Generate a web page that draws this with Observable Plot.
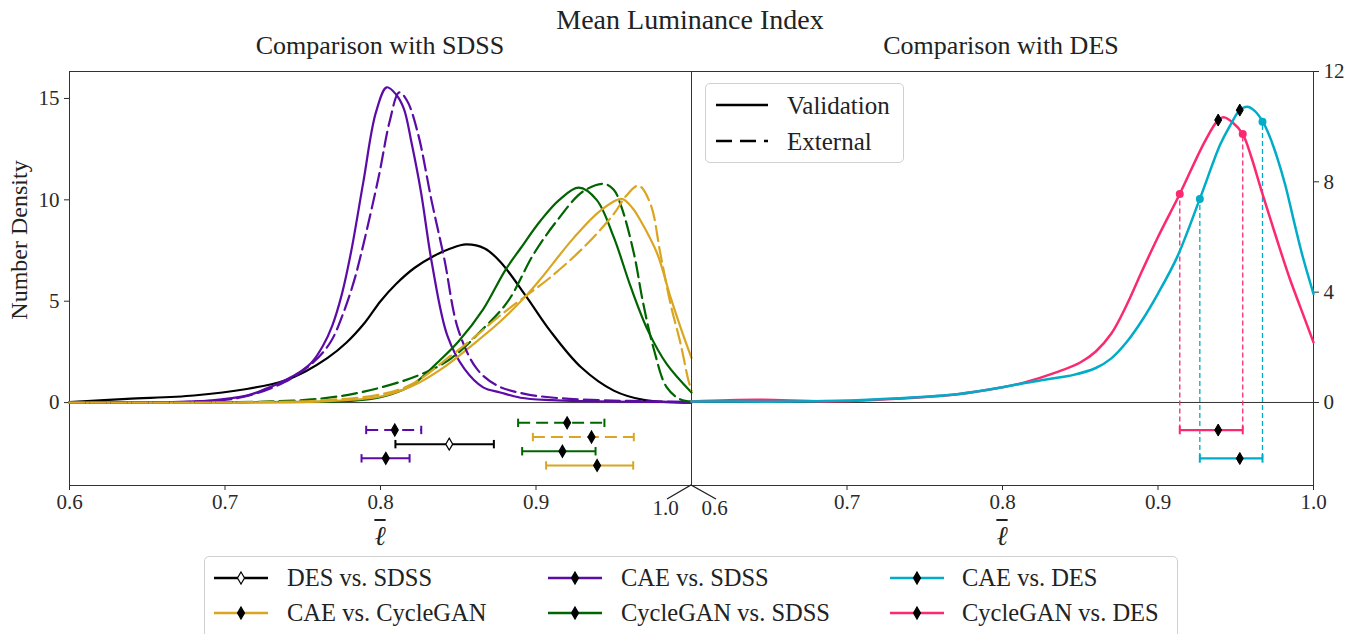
<!DOCTYPE html>
<html><head><meta charset="utf-8">
<script src="https://cdn.jsdelivr.net/npm/d3@7"></script>
<script src="https://cdn.jsdelivr.net/npm/@observablehq/plot@0.6"></script>
<style>
body{margin:0;background:#fff;}
#wrap{position:relative;width:1368px;height:634px;overflow:hidden;background:#fff;font-family:"Liberation Serif","DejaVu Serif",serif;color:#222;}
.t{position:absolute;white-space:nowrap;transform:translate(-50%,-50%);line-height:1;}
.plotbox{position:absolute;}
.plotbox svg{overflow:visible;background:transparent;}
.leg{position:absolute;border:1px solid #d0d0d0;border-radius:5px;background:rgba(255,255,255,0.85);}
.legtxt{position:absolute;white-space:nowrap;transform:translateY(-50%);line-height:1;}
.ell{text-decoration:overline;text-decoration-thickness:1.5px;font-style:italic;}
</style></head><body><div id="wrap"></div>
<script>
// ---------- data ----------
const xTicksLeft = [0.6, 0.7, 0.8, 0.9];
const xTicksRight = [0.7, 0.8, 0.9, 1.0];
const leftYTicks = [0, 5, 10, 15];
const rightYTicks = [0, 4, 8, 12];

// KDE curves, comparison with SDSS
const desVsSdssVal = [[0.60,0.02],[0.637,0.18],[0.68,0.35],[0.714,0.67],[0.738,1.08],[0.752,1.55],[0.766,2.2],[0.778,2.95],[0.79,3.95],[0.80,5.0],[0.81,5.85],[0.822,6.65],[0.834,7.22],[0.845,7.6],[0.855,7.8],[0.867,7.6],[0.877,6.95],[0.894,5.2],[0.909,3.55],[0.929,1.74],[0.95,0.59],[0.97,0.12],[1.0,0.0]];
const caeVsSdssVal = [[0.60,0.0],[0.66,0.02],[0.69,0.1],[0.714,0.34],[0.727,0.7],[0.738,1.08],[0.748,1.5],[0.756,2.0],[0.763,2.8],[0.769,3.8],[0.775,5.3],[0.781,7.4],[0.789,10.9],[0.797,14.3],[0.804,15.55],[0.810,15.2],[0.815,14.5],[0.820,12.8],[0.826,10.4],[0.833,6.9],[0.843,3.3],[0.854,1.66],[0.866,0.75],[0.877,0.5],[0.890,0.24],[0.91,0.12],[0.93,0.07],[0.96,0.04],[1.0,0.02]];
const caeVsSdssExt = [[0.60,0.0],[0.68,0.05],[0.71,0.25],[0.738,1.0],[0.757,2.0],[0.768,3.0],[0.776,4.4],[0.783,6.0],[0.789,7.8],[0.799,11.2],[0.806,13.9],[0.812,15.3],[0.817,14.9],[0.824,13.3],[0.833,9.9],[0.841,7.1],[0.850,3.6],[0.862,1.66],[0.875,0.84],[0.892,0.44],[0.91,0.25],[0.93,0.15],[0.96,0.08],[1.0,0.03]];
const cycVsSdssVal = [[0.60,0],[0.70,0.01],[0.76,0.04],[0.78,0.08],[0.80,0.26],[0.82,0.85],[0.837,2.0],[0.85,3.0],[0.866,4.6],[0.88,6.5],[0.89,7.6],[0.903,8.98],[0.915,10.0],[0.9275,10.6],[0.939,10.0],[0.95,8.16],[0.961,5.69],[0.972,3.55],[0.984,1.91],[1.0,0.5]];
const cycVsSdssExt = [[0.60,0],[0.70,0.02],[0.73,0.06],[0.76,0.18],[0.79,0.55],[0.824,1.33],[0.845,2.16],[0.866,3.64],[0.882,5.0],[0.8986,7.34],[0.9136,8.98],[0.93,10.4],[0.9436,10.79],[0.950,10.5],[0.955,9.64],[0.963,7.34],[0.969,4.87],[0.976,2.57],[0.984,0.76],[0.993,0.15],[1.0,0.05]];
const caeVsCycVal = [[0.60,0],[0.72,0.01],[0.76,0.05],[0.80,0.3],[0.82,0.8],[0.84,1.7],[0.86,2.9],[0.877,4.0],[0.894,5.3],[0.903,6.1],[0.924,8.1],[0.9415,9.47],[0.955,10.05],[0.962,9.6],[0.9672,8.98],[0.978,7.34],[0.9865,5.2],[0.993,3.7],[1.0,2.2]];
const caeVsCycExt = [[0.60,0],[0.72,0.02],[0.76,0.1],[0.80,0.4],[0.82,0.9],[0.845,2.3],[0.86,3.2],[0.877,4.3],[0.895,5.35],[0.9093,6.18],[0.9307,7.66],[0.95,9.3],[0.958,10.2],[0.966,10.7],[0.9736,9.8],[0.98,7.34],[0.9865,4.87],[0.993,2.9],[0.998,1.1],[1.0,0.6]];

// KDE curves, comparison with DES
const cycVsDesVal = [[0.60,0.04],[0.642,0.1],[0.685,0.04],[0.72,0.1],[0.771,0.3],[0.80,0.55],[0.8136,0.72],[0.835,1.1],[0.85,1.45],[0.86,1.85],[0.87,2.5],[0.88,3.55],[0.89,4.8],[0.90,6.0],[0.914,7.56],[0.93,9.45],[0.9387,10.24],[0.9423,10.34],[0.948,10.15],[0.9545,9.73],[0.960,8.9],[0.9659,7.8],[0.972,6.7],[0.9788,5.5],[0.985,4.45],[0.9916,3.45],[1.0,2.18]];
const caeVsDesVal = [[0.60,0.04],[0.65,0.03],[0.685,0.05],[0.72,0.12],[0.771,0.3],[0.80,0.55],[0.8136,0.7],[0.83,0.85],[0.8457,1.0],[0.86,1.25],[0.87,1.6],[0.88,2.2],[0.89,3.0],[0.90,3.95],[0.9123,5.27],[0.9269,7.38],[0.94,9.35],[0.946,10.0],[0.9526,10.6],[0.9574,10.72],[0.962,10.58],[0.9674,10.18],[0.972,9.62],[0.9766,8.89],[0.982,7.85],[0.9873,6.6],[0.993,5.3],[1.0,3.94]];

// intervals (low, median, high), comparison with SDSS, top to bottom
const leftIntervalNames = ["CycleGAN vs. SDSS","CAE vs. SDSS","CAE vs. CycleGAN","DES vs. SDSS","CycleGAN vs. SDSS","CAE vs. SDSS","CAE vs. CycleGAN"];
const leftIntervalKinds = ["External","External","External","Validation","Validation","Validation","Validation"];
const leftIntervalLow = [0.8885,0.7908,0.898,0.8096,0.8911,0.7878,0.9065];
const leftIntervalMedian = [0.920,0.8092,0.9357,0.8442,0.917,0.8034,0.9393];
const leftIntervalHigh = [0.944,0.8262,0.9629,0.8729,0.9383,0.8187,0.9625];

// intervals, comparison with DES
const rightIntervalNames = ["CycleGAN vs. DES","CAE vs. DES"];
const rightIntervalLow = [0.914,0.9269];
const rightIntervalMedian = [0.9387,0.9526];
const rightIntervalHigh = [0.9545,0.9672];
const rightDensityAtLow = [7.56,7.38];
const rightDensityAtMedian = [10.24,10.6];
const rightDensityAtHigh = [9.73,10.18];

const legendOrder = [["DES vs. SDSS","CAE vs. SDSS","CAE vs. DES"],["CAE vs. CycleGAN","CycleGAN vs. SDSS","CycleGAN vs. DES"]];

// ---------- styles ----------
const seriesColors = {"DES vs. SDSS":"#000000","CAE vs. SDSS":"#5b0ba6","CycleGAN vs. SDSS":"#006400","CAE vs. CycleGAN":"#daa520","CAE vs. DES":"#00acc8","CycleGAN vs. DES":"#fb2a70"};
const FONT = '"Liberation Serif","DejaVu Serif",serif';
const DASH = "15,6";
const CURVE = "catmull-rom";

const thinDiamond = {draw(ctx, size){const r=Math.sqrt(size/Math.PI);ctx.moveTo(0,-r);ctx.lineTo(r*0.58,0);ctx.lineTo(0,r);ctx.lineTo(-r*0.58,0);ctx.closePath();}};
const capSymbol = {draw(ctx, size){const r=Math.sqrt(size/Math.PI);ctx.moveTo(0,-r);ctx.lineTo(0,r);}};

function toRows(name, kind, pts){return pts.map(([x,y])=>({name, kind, x, y, color: seriesColors[name]}));}

const leftCurves = [
  ...toRows("DES vs. SDSS","Validation",desVsSdssVal),
  ...toRows("CAE vs. SDSS","Validation",caeVsSdssVal),
  ...toRows("CAE vs. SDSS","External",caeVsSdssExt),
  ...toRows("CycleGAN vs. SDSS","Validation",cycVsSdssVal),
  ...toRows("CycleGAN vs. SDSS","External",cycVsSdssExt),
  ...toRows("CAE vs. CycleGAN","Validation",caeVsCycVal),
  ...toRows("CAE vs. CycleGAN","External",caeVsCycExt)
];
const rightCurves = [
  ...toRows("CycleGAN vs. DES","Validation",cycVsDesVal),
  ...toRows("CAE vs. DES","Validation",caeVsDesVal)
];

const leftIntervals = leftIntervalNames.map((name,i)=>({name, kind:leftIntervalKinds[i], lo:leftIntervalLow[i], med:leftIntervalMedian[i], hi:leftIntervalHigh[i], row:-1-0.35*i, color:seriesColors[name]}));
const rightIntervals = rightIntervalNames.map((name,i)=>({name, lo:rightIntervalLow[i], med:rightIntervalMedian[i], hi:rightIntervalHigh[i], dLo:rightDensityAtLow[i], dMed:rightDensityAtMedian[i], dHi:rightDensityAtHigh[i], row:-1-1.03*i, color:seriesColors[name]}));
const leftCaps = leftIntervals.flatMap(d=>[{x:d.lo,row:d.row,color:d.color},{x:d.hi,row:d.row,color:d.color}]);
const rightCaps = rightIntervals.flatMap(d=>[{x:d.lo,row:d.row,color:d.color},{x:d.hi,row:d.row,color:d.color}]);
const rightBounds = rightIntervals.flatMap(d=>[{x:d.lo,y:d.dLo,row:d.row,color:d.color},{x:d.hi,y:d.dHi,row:d.row,color:d.color}]);

const fmt1 = d3.format(".1f");
const commonStyle = {fontFamily:FONT, fontSize:"21px", color:"#2a2a2a", background:"transparent", overflow:"visible"};

const leftPlot = Plot.plot({
  width:700, height:485, marginLeft:69, marginRight:9, marginTop:11, marginBottom:60,
  style: commonStyle,
  color:{type:"identity"},
  x:{domain:[0.6,1.0], ticks:xTicksLeft, tickFormat:fmt1, tickSize:5, tickPadding:4, label:null},
  y:{domain:[-4.09,16.33], ticks:leftYTicks, tickFormat:d3.format("d"), tickSize:5, tickPadding:5, label:null},
  marks:[
    Plot.frame({stroke:"#333", strokeWidth:1}),
    Plot.ruleY([0], {stroke:"#333", strokeWidth:1}),
    Plot.text([1.0], {x:d=>d, text:d=>fmt1(d), frameAnchor:"bottom", dx:-26, dy:29, fill:"#2a2a2a"}),
    Plot.line(leftCurves.filter(d=>d.kind==="Validation"), {x:"x", y:"y", z:"name", stroke:"color", strokeWidth:2.2, curve:CURVE}),
    Plot.line(leftCurves.filter(d=>d.kind==="External"), {x:"x", y:"y", z:"name", stroke:"color", strokeWidth:2.2, strokeDasharray:DASH, curve:CURVE}),
    Plot.link(leftIntervals.filter(d=>d.kind==="Validation"), {x1:"lo", x2:"hi", y1:"row", y2:"row", stroke:"color", strokeWidth:2}),
    Plot.link(leftIntervals.filter(d=>d.kind==="External"), {x1:"lo", x2:"hi", y1:"row", y2:"row", stroke:"color", strokeWidth:2, strokeDasharray:"12,6"}),
    Plot.dot(leftCaps, {x:"x", y:"row", symbol:capSymbol, r:4.2, stroke:"color", strokeWidth:2, fill:"none"}),
    Plot.dot(leftIntervals, {x:"med", y:"row", symbol:thinDiamond, r:6, fill:d=>d.name==="DES vs. SDSS"?"#ffffff":"#000000", stroke:"#000000", strokeWidth:1.2})
  ]
});

const rightPlot = Plot.plot({
  width:686, height:485, marginLeft:9, marginRight:55, marginTop:11, marginBottom:60,
  style: commonStyle,
  color:{type:"identity"},
  x:{domain:[0.6,1.0], ticks:xTicksRight, tickFormat:fmt1, tickSize:5, tickPadding:4, label:null},
  y:{domain:[-3.01,12], axis:"right", ticks:rightYTicks, tickFormat:d3.format("d"), tickSize:5, tickPadding:5, label:null},
  marks:[
    Plot.frame({stroke:"#333", strokeWidth:1}),
    Plot.ruleY([0], {stroke:"#333", strokeWidth:1}),
    Plot.text([0.6], {x:d=>d, text:d=>fmt1(d), frameAnchor:"bottom", dx:23, dy:29, fill:"#2a2a2a"}),
    Plot.ruleX(rightBounds, {x:"x", y1:"row", y2:"y", stroke:"color", strokeWidth:1.3, strokeDasharray:"5,3"}),
    Plot.line(rightCurves, {x:"x", y:"y", z:"name", stroke:"color", strokeWidth:2.5, curve:CURVE}),
    Plot.dot(rightBounds, {x:"x", y:"y", r:4, fill:"color", stroke:"none"}),
    Plot.dot(rightIntervals, {x:"med", y:"dMed", symbol:thinDiamond, r:6, fill:"#000000", stroke:"#000000", strokeWidth:1}),
    Plot.link(rightIntervals, {x1:"lo", x2:"hi", y1:"row", y2:"row", stroke:"color", strokeWidth:2.2}),
    Plot.dot(rightCaps, {x:"x", y:"row", symbol:capSymbol, r:4.2, stroke:"color", strokeWidth:2, fill:"none"}),
    Plot.dot(rightIntervals, {x:"med", y:"row", symbol:thinDiamond, r:6, fill:"#000000", stroke:"#000000", strokeWidth:1})
  ]
});

// ---------- layout ----------
const wrap = document.getElementById("wrap");
function addText(txt, x, y, size, extra, cls){const d=document.createElement("div");d.className="t"+(cls?" "+cls:"");d.textContent=txt;d.style.left=x+"px";d.style.top=y+"px";d.style.fontSize=size+"px";if(extra)Object.assign(d.style,extra);wrap.appendChild(d);return d;}

const lb = document.createElement("div"); lb.className="plotbox"; lb.style.left="0px"; lb.style.top="60px"; lb.appendChild(leftPlot); wrap.appendChild(lb);
const rb = document.createElement("div"); rb.className="plotbox"; rb.style.left="682px"; rb.style.top="60px"; rb.appendChild(rightPlot); wrap.appendChild(rb);

addText("Mean Luminance Index", 690, 20, 28);
addText("Comparison with SDSS", 380, 46, 26);
addText("Comparison with DES", 1001, 46, 26);
addText("Number Density", 19, 240, 24, {transform:"translate(-50%,-50%) rotate(-90deg)"});
addText("\u2113", 380, 535, 27, {paddingTop:"3px"}, "ell");
addText("\u2113", 1002, 535, 27, {paddingTop:"3px"}, "ell");

// broken axis marks
const ns="http://www.w3.org/2000/svg";
const brk=document.createElementNS(ns,"svg");brk.setAttribute("width","1368");brk.setAttribute("height","634");brk.style.position="absolute";brk.style.left="0";brk.style.top="0";brk.style.pointerEvents="none";
const pl=document.createElementNS(ns,"polyline");pl.setAttribute("points","667,499 691,485 716,499");pl.setAttribute("fill","none");pl.setAttribute("stroke","#222");pl.setAttribute("stroke-width","1.4");
brk.appendChild(pl);wrap.appendChild(brk);

function sample(color, dashed, marker, open, w){
  const s=document.createElementNS(ns,"svg");s.setAttribute("width",w);s.setAttribute("height","16");s.style.overflow="visible";
  const l=document.createElementNS(ns,"line");l.setAttribute("x1",0);l.setAttribute("x2",w);l.setAttribute("y1",8);l.setAttribute("y2",8);l.setAttribute("stroke",color);l.setAttribute("stroke-width","2.4");
  if(dashed)l.setAttribute("stroke-dasharray",dashed);s.appendChild(l);
  if(marker){const p=document.createElementNS(ns,"path");const cx=w/2;p.setAttribute("d",`M${cx},2 L${cx+3.5},8 L${cx},14 L${cx-3.5},8 Z`);p.setAttribute("fill",open?"#fff":"#000");p.setAttribute("stroke","#000");p.setAttribute("stroke-width","1.2");s.appendChild(p);}
  return s;
}

// inner legend (line styles)
const il=document.createElement("div");il.className="leg";il.style.left="705px";il.style.top="83px";il.style.width="197px";il.style.height="78px";wrap.appendChild(il);
[["Validation",null,21],["External","16,8",57]].forEach(([lab,dash,y])=>{
  const s=sample("#000",dash,false,false,52);s.style.position="absolute";s.style.left="10px";s.style.top=(y-8)+"px";il.appendChild(s);
  const t=document.createElement("div");t.className="legtxt";t.textContent=lab;t.style.left="81px";t.style.top=y+"px";t.style.fontSize="25px";il.appendChild(t);
});

// bottom legend (series)
const bl=document.createElement("div");bl.className="leg";bl.style.left="204px";bl.style.top="556px";bl.style.width="972px";bl.style.height="100px";wrap.appendChild(bl);
const colX=[9,343,685], colT=[82,416,757], rowY=[21,56];
legendOrder.forEach((row,ri)=>row.forEach((name,ci)=>{
  const s=sample(seriesColors[name],null,true,name==="DES vs. SDSS",54);s.style.position="absolute";s.style.left=colX[ci]+"px";s.style.top=(rowY[ri]-8)+"px";bl.appendChild(s);
  const t=document.createElement("div");t.className="legtxt";t.textContent=name;t.style.left=colT[ci]+"px";t.style.top=rowY[ri]+"px";t.style.fontSize="24.5px";bl.appendChild(t);
}));
</script></body></html>
